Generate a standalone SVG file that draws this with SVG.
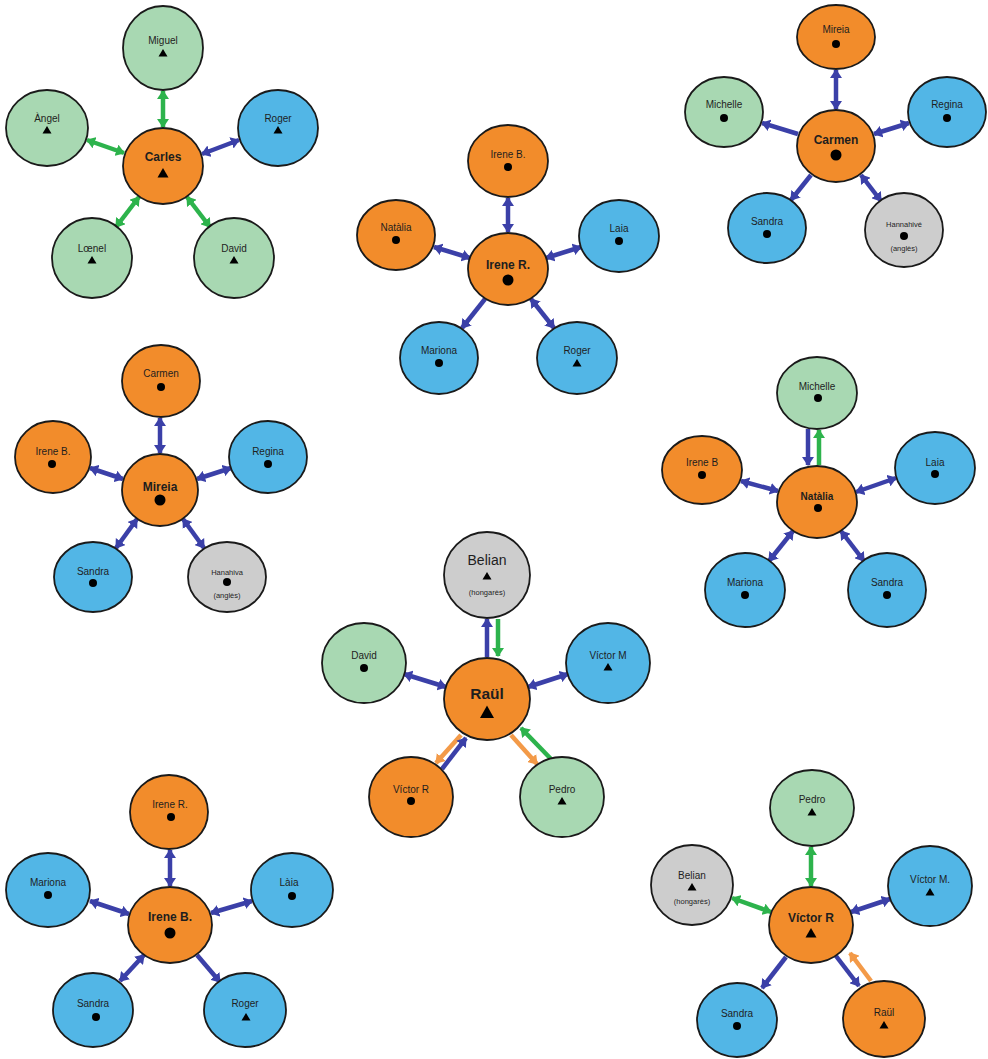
<svg xmlns="http://www.w3.org/2000/svg" xmlns:xlink="http://www.w3.org/1999/xlink" width="988" height="1059" viewBox="0 0 988 1059">
<style>
.n{stroke:#1a1a1a;stroke-width:1.8}
.o{fill:#F28C2B}.g{fill:#A8D8B2}.b{fill:#52B6E6}.y{fill:#CDCDCD}
text{font-family:"Liberation Sans",Arial,sans-serif;fill:#1e1e1e;text-anchor:middle}
.l{font-size:10px}
.s{font-size:7.5px}
.c{font-size:12px;font-weight:bold}
.m{fill:#000}
line{stroke-width:4.5;fill:none}
.bb{stroke:#3B40A8;marker-start:url(#hb);marker-end:url(#hb)}
.b1{stroke:#3B40A8;marker-end:url(#hb)}
.gg{stroke:#2DB34C;marker-start:url(#hg);marker-end:url(#hg)}
.g1{stroke:#2DB34C;marker-end:url(#hg)}
.o1{stroke:#F39A48;marker-end:url(#ho)}
</style>
<defs>
<marker id="hb" viewBox="0 0 9 12" refX="8" refY="6" markerWidth="9" markerHeight="12" markerUnits="userSpaceOnUse" orient="auto-start-reverse"><path d="M0,0 L9,6 L0,12 Z" fill="#3B40A8"/></marker>
<marker id="hg" viewBox="0 0 9 12" refX="8" refY="6" markerWidth="9" markerHeight="12" markerUnits="userSpaceOnUse" orient="auto-start-reverse"><path d="M0,0 L9,6 L0,12 Z" fill="#2DB34C"/></marker>
<marker id="ho" viewBox="0 0 9 12" refX="8" refY="6" markerWidth="9" markerHeight="12" markerUnits="userSpaceOnUse" orient="auto-start-reverse"><path d="M0,0 L9,6 L0,12 Z" fill="#F39A48"/></marker>
<path id="tri" class="m" d="M0,-4 L4.5,3.5 L-4.5,3.5 Z"/>
<path id="triL" class="m" d="M0,-5 L5.5,4.5 L-5.5,4.5 Z"/>
<path id="triXL" class="m" d="M0,-6.5 L7,6 L-7,6 Z"/>
<circle id="dot" class="m" r="4"/>
<circle id="dotL" class="m" r="5.5"/>
</defs>
<rect width="988" height="1059" fill="#ffffff"/>

<g id="connectors">
<!-- cluster 1 -->
<line class="gg" x1="163" y1="91" x2="163" y2="127"/>
<line class="gg" x1="87" y1="140" x2="124" y2="153"/>
<line class="bb" x1="202" y1="154" x2="239" y2="140"/>
<line class="gg" x1="139" y1="197" x2="116" y2="227"/>
<line class="gg" x1="187" y1="197" x2="210" y2="227"/>
<!-- cluster 2 -->
<line class="bb" x1="508" y1="198" x2="508" y2="232"/>
<line class="bb" x1="434" y1="247" x2="470" y2="258"/>
<line class="bb" x1="546" y1="258" x2="581" y2="247"/>
<line class="b1" x1="485" y1="299" x2="462" y2="328"/>
<line class="bb" x1="531" y1="299" x2="554" y2="328"/>
<!-- cluster 3 -->
<line class="bb" x1="836" y1="70" x2="836" y2="109"/>
<line class="b1" x1="798" y1="134" x2="762" y2="123"/>
<line class="bb" x1="874" y1="134" x2="909" y2="123"/>
<line class="b1" x1="811" y1="175" x2="791" y2="200"/>
<line class="bb" x1="861" y1="175" x2="881" y2="201"/>
<!-- cluster 4 -->
<line class="bb" x1="160" y1="418" x2="160" y2="453"/>
<line class="bb" x1="90" y1="468" x2="123" y2="479"/>
<line class="bb" x1="197" y1="479" x2="231" y2="468"/>
<line class="bb" x1="137" y1="519" x2="116" y2="548"/>
<line class="bb" x1="183" y1="519" x2="204" y2="548"/>
<!-- cluster 5 -->
<line class="b1" x1="808" y1="429" x2="808" y2="465"/>
<line class="g1" x1="819" y1="465" x2="819" y2="430"/>
<line class="bb" x1="741" y1="481" x2="778" y2="491"/>
<line class="bb" x1="856" y1="492" x2="896" y2="478"/>
<line class="bb" x1="793" y1="531" x2="769" y2="561"/>
<line class="bb" x1="841" y1="531" x2="864" y2="561"/>
<!-- cluster 6 -->
<line class="b1" x1="487" y1="657" x2="487" y2="619"/>
<line class="g1" x1="498" y1="619" x2="498" y2="656"/>
<line class="bb" x1="404" y1="674" x2="446" y2="687"/>
<line class="bb" x1="528" y1="687" x2="568" y2="674"/>
<line class="o1" x1="461" y1="735" x2="436" y2="763"/>
<line class="b1" x1="442" y1="769" x2="466" y2="738"/>
<line class="o1" x1="511" y1="735" x2="537" y2="764"/>
<line class="g1" x1="551" y1="759" x2="521" y2="728"/>
<!-- cluster 7 -->
<line class="bb" x1="170" y1="850" x2="170" y2="886"/>
<line class="bb" x1="90" y1="901" x2="129" y2="914"/>
<line class="bb" x1="211" y1="913" x2="252" y2="901"/>
<line class="bb" x1="144" y1="955" x2="120" y2="981"/>
<line class="b1" x1="197" y1="955" x2="220" y2="982"/>
<!-- cluster 8 -->
<line class="gg" x1="811" y1="847" x2="811" y2="886"/>
<line class="gg" x1="732" y1="898" x2="771" y2="912"/>
<line class="bb" x1="851" y1="912" x2="890" y2="899"/>
<line class="b1" x1="786" y1="957" x2="762" y2="988"/>
<line class="b1" x1="836" y1="956" x2="859" y2="986"/>
<line class="o1" x1="871" y1="981" x2="850" y2="953"/>
</g>

<!-- cluster 1: Carles -->
<g id="c1-miguel"><ellipse class="n g" cx="163" cy="48" rx="40" ry="42"/><text class="l" x="163" y="44">Miguel</text><use xlink:href="#tri" x="163" y="53"/></g>
<g id="c1-angel"><ellipse class="n g" cx="47" cy="128" rx="41" ry="38"/><text class="l" x="47" y="122">Àngel</text><use xlink:href="#tri" x="47" y="130"/></g>
<g id="c1-roger"><ellipse class="n b" cx="278" cy="128" rx="40" ry="38"/><text class="l" x="278" y="122">Roger</text><use xlink:href="#tri" x="278" y="130"/></g>
<g id="c1-carles"><ellipse class="n o" cx="163" cy="166" rx="40" ry="38"/><text class="c" x="163" y="161">Carles</text><use xlink:href="#triL" x="163" y="173"/></g>
<g id="c1-loenel"><ellipse class="n g" cx="92" cy="258" rx="40" ry="40"/><text class="l" x="92" y="252">Lœnel</text><use xlink:href="#tri" x="92" y="260"/></g>
<g id="c1-david"><ellipse class="n g" cx="234" cy="258" rx="40" ry="40"/><text class="l" x="234" y="252">David</text><use xlink:href="#tri" x="234" y="260"/></g>

<!-- cluster 2: Irene R. -->
<g id="c2-ireneb"><ellipse class="n o" cx="508" cy="161" rx="40" ry="36"/><text class="l" x="508" y="158">Irene B.</text><use xlink:href="#dot" x="508" y="167"/></g>
<g id="c2-natalia"><ellipse class="n o" cx="396" cy="235" rx="39" ry="35"/><text class="l" x="396" y="231">Natàlia</text><use xlink:href="#dot" x="396" y="240"/></g>
<g id="c2-laia"><ellipse class="n b" cx="619" cy="236" rx="40" ry="36"/><text class="l" x="619" y="232">Laia</text><use xlink:href="#dot" x="619" y="241"/></g>
<g id="c2-irener"><ellipse class="n o" cx="508" cy="269" rx="40" ry="36"/><text class="c" x="508" y="269">Irene R.</text><use xlink:href="#dotL" x="508" y="280"/></g>
<g id="c2-mariona"><ellipse class="n b" cx="439" cy="358" rx="39" ry="36"/><text class="l" x="439" y="354">Mariona</text><use xlink:href="#dot" x="439" y="363"/></g>
<g id="c2-roger"><ellipse class="n b" cx="577" cy="358" rx="40" ry="36"/><text class="l" x="577" y="354">Roger</text><use xlink:href="#tri" x="577" y="363"/></g>

<!-- cluster 3: Carmen -->
<g id="c3-mireia"><ellipse class="n o" cx="836" cy="37" rx="39" ry="32"/><text class="l" x="836" y="33">Mireia</text><use xlink:href="#dot" x="836" y="44"/></g>
<g id="c3-michelle"><ellipse class="n g" cx="724" cy="112" rx="39" ry="35"/><text class="l" x="724" y="108">Michelle</text><use xlink:href="#dot" x="724" y="118"/></g>
<g id="c3-regina"><ellipse class="n b" cx="947" cy="112" rx="39" ry="35"/><text class="l" x="947" y="108">Regina</text><use xlink:href="#dot" x="947" y="118"/></g>
<g id="c3-carmen"><ellipse class="n o" cx="836" cy="146" rx="39" ry="36"/><text class="c" x="836" y="144">Carmen</text><use xlink:href="#dotL" x="836" y="155"/></g>
<g id="c3-sandra"><ellipse class="n b" cx="767" cy="228" rx="39" ry="35"/><text class="l" x="767" y="225">Sandra</text><use xlink:href="#dot" x="767" y="234"/></g>
<g id="c3-hannahive"><ellipse class="n y" cx="904" cy="230" rx="39" ry="37"/><text class="s" x="904" y="227">Hannahivé</text><use xlink:href="#dot" x="904" y="236"/><text class="s" x="904" y="251">(anglès)</text></g>

<!-- cluster 4: Mireia -->
<g id="c4-carmen"><ellipse class="n o" cx="161" cy="381" rx="39" ry="36"/><text class="l" x="161" y="377">Carmen</text><use xlink:href="#dot" x="161" y="387"/></g>
<g id="c4-ireneb"><ellipse class="n o" cx="53" cy="457" rx="38" ry="36"/><text class="l" x="53" y="455">Irene B.</text><use xlink:href="#dot" x="52" y="464"/></g>
<g id="c4-regina"><ellipse class="n b" cx="268" cy="457" rx="39" ry="36"/><text class="l" x="268" y="455">Regina</text><use xlink:href="#dot" x="268" y="464"/></g>
<g id="c4-mireia"><ellipse class="n o" cx="160" cy="490" rx="38" ry="36"/><text class="c" x="160" y="491">Mireia</text><use xlink:href="#dotL" x="160" y="500"/></g>
<g id="c4-sandra"><ellipse class="n b" cx="93" cy="577" rx="39" ry="35"/><text class="l" x="93" y="575">Sandra</text><use xlink:href="#dot" x="93" y="583"/></g>
<g id="c4-hanahiva"><ellipse class="n y" cx="227" cy="577" rx="39" ry="35"/><text class="s" x="227" y="575">Hanahiva</text><use xlink:href="#dot" x="227" y="582"/><text class="s" x="227" y="598">(anglès)</text></g>

<!-- cluster 5: Natàlia -->
<g id="c5-michelle"><ellipse class="n g" cx="817" cy="393" rx="40" ry="36"/><text class="l" x="817" y="390">Michelle</text><use xlink:href="#dot" x="818" y="398"/></g>
<g id="c5-ireneb"><ellipse class="n o" cx="702" cy="470" rx="40" ry="34"/><text class="l" x="702" y="466">Irene B</text><use xlink:href="#dot" x="702" y="475"/></g>
<g id="c5-laia"><ellipse class="n b" cx="935" cy="468" rx="40" ry="36"/><text class="l" x="935" y="466">Laia</text><use xlink:href="#dot" x="935" y="474"/></g>
<g id="c5-natalia"><ellipse class="n o" cx="817" cy="502" rx="40" ry="36"/><text class="c" x="817" y="500" style="font-size:10px">Natàlia</text><use xlink:href="#dot" x="818" y="508"/></g>
<g id="c5-mariona"><ellipse class="n b" cx="745" cy="590" rx="40" ry="37"/><text class="l" x="745" y="586">Mariona</text><use xlink:href="#dot" x="745" y="595"/></g>
<g id="c5-sandra"><ellipse class="n b" cx="887" cy="590" rx="39" ry="37"/><text class="l" x="887" y="586">Sandra</text><use xlink:href="#dot" x="887" y="595"/></g>

<!-- cluster 6: Raül -->
<g id="c6-belian"><ellipse class="n y" cx="487" cy="575" rx="43" ry="43"/><text x="487" y="565" style="font-size:14px">Belian</text><use xlink:href="#tri" x="487" y="576"/><text class="s" x="487" y="595">(hongarès)</text></g>
<g id="c6-david"><ellipse class="n g" cx="364" cy="663" rx="42" ry="40"/><text class="l" x="364" y="659">David</text><use xlink:href="#dot" x="364" y="668"/></g>
<g id="c6-victorm"><ellipse class="n b" cx="608" cy="663" rx="42" ry="40"/><text class="l" x="608" y="659">Víctor M</text><use xlink:href="#tri" x="608" y="667"/></g>
<g id="c6-raul"><ellipse class="n o" cx="487" cy="699" rx="43" ry="41"/><text class="c" x="487" y="699" style="font-size:15.5px">Raül</text><use xlink:href="#triXL" x="487" y="712"/></g>
<g id="c6-victorr"><ellipse class="n o" cx="411" cy="797" rx="42" ry="40"/><text class="l" x="411" y="793">Víctor R</text><use xlink:href="#dot" x="411" y="801"/></g>
<g id="c6-pedro"><ellipse class="n g" cx="562" cy="797" rx="42" ry="40"/><text class="l" x="562" y="793">Pedro</text><use xlink:href="#tri" x="562" y="801"/></g>

<!-- cluster 7: Irene B. -->
<g id="c7-irener"><ellipse class="n o" cx="169" cy="812" rx="39" ry="37"/><text class="l" x="170" y="808">Irene R.</text><use xlink:href="#dot" x="171" y="817"/></g>
<g id="c7-mariona"><ellipse class="n b" cx="48" cy="890" rx="42" ry="37"/><text class="l" x="48" y="886">Mariona</text><use xlink:href="#dot" x="48" y="895"/></g>
<g id="c7-laia"><ellipse class="n b" cx="292" cy="890" rx="41" ry="37"/><text class="l" x="289" y="886">Làia</text><use xlink:href="#dot" x="292" y="896"/></g>
<g id="c7-ireneb"><ellipse class="n o" cx="170" cy="925" rx="42" ry="38"/><text class="c" x="170" y="921">Irene B.</text><use xlink:href="#dotL" x="170" y="933"/></g>
<g id="c7-sandra"><ellipse class="n b" cx="93" cy="1010" rx="40" ry="37"/><text class="l" x="93" y="1007">Sandra</text><use xlink:href="#dot" x="96" y="1017"/></g>
<g id="c7-roger"><ellipse class="n b" cx="245" cy="1010" rx="41" ry="37"/><text class="l" x="245" y="1007">Roger</text><use xlink:href="#tri" x="246" y="1017"/></g>

<!-- cluster 8: Víctor R -->
<g id="c8-pedro"><ellipse class="n g" cx="812" cy="808" rx="42" ry="38"/><text class="l" x="812" y="803">Pedro</text><use xlink:href="#tri" x="812" y="812"/></g>
<g id="c8-belian"><ellipse class="n y" cx="692" cy="885" rx="41" ry="40"/><text class="l" x="692" y="879">Belian</text><use xlink:href="#tri" x="692" y="887"/><text class="s" x="692" y="904">(hongarès)</text></g>
<g id="c8-victorm"><ellipse class="n b" cx="930" cy="886" rx="42" ry="40"/><text class="l" x="930" y="883">Víctor M.</text><use xlink:href="#tri" x="930" y="892"/></g>
<g id="c8-victorr"><ellipse class="n o" cx="811" cy="925" rx="42" ry="38"/><text class="c" x="811" y="922">Víctor R</text><use xlink:href="#triL" x="811" y="933"/></g>
<g id="c8-sandra"><ellipse class="n b" cx="737" cy="1020" rx="40" ry="37"/><text class="l" x="737" y="1017">Sandra</text><use xlink:href="#dot" x="737" y="1026"/></g>
<g id="c8-raul"><ellipse class="n o" cx="884" cy="1019" rx="41" ry="38"/><text class="l" x="884" y="1016">Raül</text><use xlink:href="#tri" x="884" y="1025"/></g>
</svg>
